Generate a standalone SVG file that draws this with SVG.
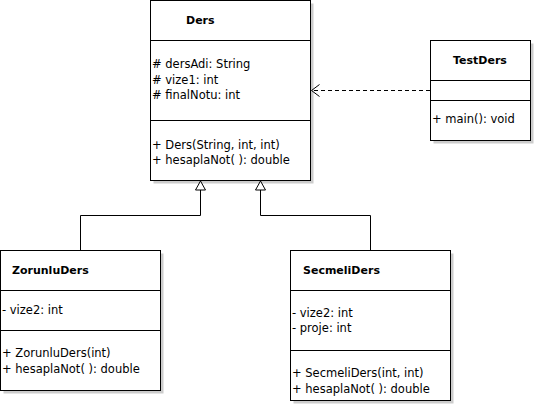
<svg xmlns="http://www.w3.org/2000/svg" width="535" height="415" viewBox="0 0 535 415">
<defs>
<style>
.shadow{fill:#cccccc;stroke:none}
.box{fill:#ffffff;stroke:#000000;stroke-width:1}
.div{stroke:#000000;stroke-width:1;fill:none}
.t{font-family:"DejaVu Sans",Verdana,sans-serif;font-size:11.5px;fill:#000000}
.b{font-weight:bold;font-size:11px}
.conn{fill:none;stroke:#000000;stroke-width:1}
.tri{fill:#ffffff;stroke:#000000;stroke-width:1}
.dash{stroke-dasharray:4,3}
</style>
</defs>
<rect width="535" height="415" fill="#ffffff"/>

<g id="Ders">
<rect class="shadow" x="153.5" y="3.5" width="160" height="180"/>
<rect class="box" x="150.5" y="0.5" width="160" height="180"/>
<line class="div" x1="150.5" y1="40.5" x2="310.5" y2="40.5"/>
<line class="div" x1="150.5" y1="120.5" x2="310.5" y2="120.5"/>
<text class="t b" x="186" y="24">Ders</text>
<text class="t" x="152" y="68">#&#160;dersAdi: String</text>
<text class="t" x="152" y="83.5">#&#160;vize1: int</text>
<text class="t" x="152" y="99">#&#160;finalNotu: int</text>
<text class="t" x="152" y="148.5">+ Ders(String, int, int)</text>
<text class="t" x="152" y="164">+ hesaplaNot( ): double</text>
</g>

<g id="TestDers">
<rect class="shadow" x="433.5" y="43.5" width="100" height="100"/>
<rect class="box" x="430.5" y="40.5" width="100" height="100"/>
<line class="div" x1="430.5" y1="80.5" x2="530.5" y2="80.5"/>
<line class="div" x1="430.5" y1="100.5" x2="530.5" y2="100.5"/>
<text class="t b" x="453" y="63.5">TestDers</text>
<text class="t" x="432" y="123">+ main(): void</text>
</g>

<g id="ZorunluDers">
<rect class="shadow" x="3.5" y="253.5" width="160" height="140"/>
<rect class="box" x="0.5" y="250.5" width="160" height="140"/>
<line class="div" x1="0.5" y1="290.5" x2="160.5" y2="290.5"/>
<line class="div" x1="0.5" y1="330.5" x2="160.5" y2="330.5"/>
<text class="t b" x="12" y="273.5">ZorunluDers</text>
<text class="t" x="2" y="313.5">- vize2: int</text>
<text class="t" x="2" y="357">+ ZorunluDers(int)</text>
<text class="t" x="2" y="372.5">+ hesaplaNot( ): double</text>
</g>

<g id="SecmeliDers">
<rect class="shadow" x="293.5" y="253.5" width="160" height="150"/>
<rect class="box" x="290.5" y="250.5" width="160" height="150"/>
<line class="div" x1="290.5" y1="290.5" x2="450.5" y2="290.5"/>
<line class="div" x1="290.5" y1="350.5" x2="450.5" y2="350.5"/>
<text class="t b" x="303" y="273.5">SecmeliDers</text>
<text class="t" x="292" y="317">- vize2: int</text>
<text class="t" x="292" y="332">- proje: int</text>
<text class="t" x="292" y="377">+ SecmeliDers(int, int)</text>
<text class="t" x="292" y="392.5">+ hesaplaNot( ): double</text>
</g>

<g id="connectors">
<path class="conn" d="M200.5 190 V215.5 H80.5 V250"/>
<polygon class="tri" points="200.5,181 195.5,190 205.5,190"/>
<path class="conn" d="M260.5 190 V215.5 H370.5 V250"/>
<polygon class="tri" points="260.5,181 255.5,190 265.5,190"/>
<line class="conn dash" x1="430" y1="90.5" x2="312" y2="90.5"/>
<polyline class="conn" points="319.5,84.5 311.5,90.5 319.5,96.5"/>
</g>
</svg>
